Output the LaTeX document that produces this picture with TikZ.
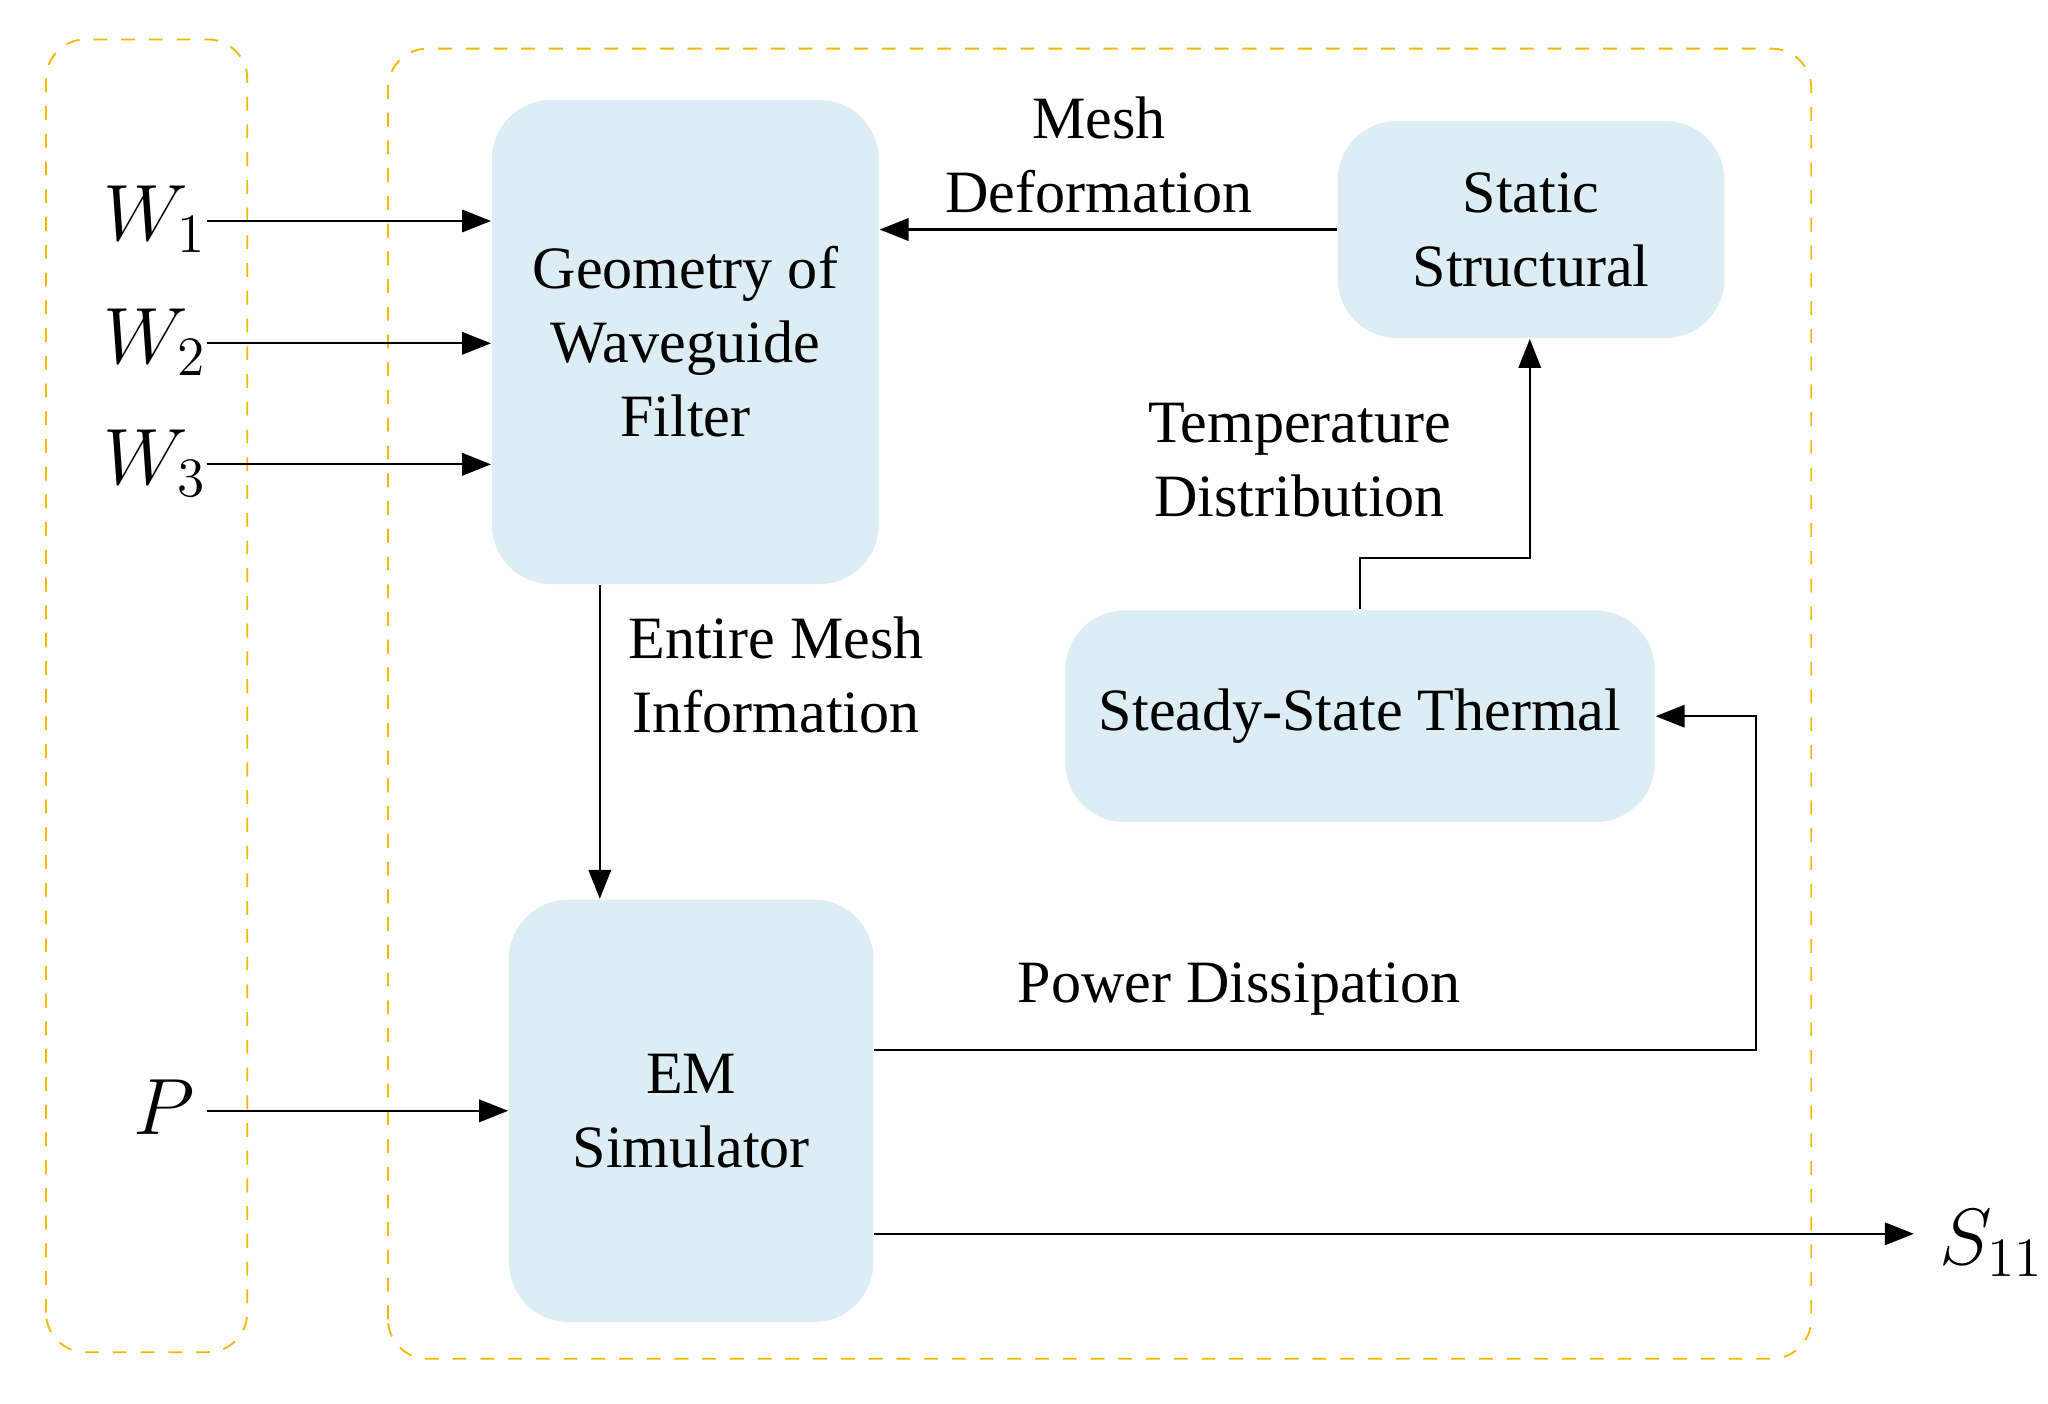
\documentclass[tikz,border=0pt]{standalone}
\usepackage{fontspec}
\setmainfont{Liberation Serif}
\usetikzlibrary{positioning,arrows.meta}
\definecolor{boxblue}{HTML}{DCEEF4}
\definecolor{frameorange}{HTML}{F5B800}
\begin{document}
\begin{tikzpicture}[
      >={Triangle[length=0.22cm,width=0.17cm]},
      block/.style={fill=boxblue,rounded corners=0.45cm,align=center,
                    font=\fontsize{13}{16}\selectfont},
      frame/.style={draw=frameorange,dashed,rounded corners=0.3cm,thin},
      msg/.style={->, line width=0.5pt},
      label/.style={font=\fontsize{13}{16}\selectfont,align=center},
      var/.style={font=\fontsize{18}{20}\selectfont}
    ]
    \useasboundingbox (0,0) rectangle (15.57,10.67);

    % Dashed frames
    \draw[frame] (0.35,0.39) rectangle (1.88,10.37);
    \draw[frame] (2.95,0.34) rectangle (13.77,10.30);

    % Blocks
    \node[block, minimum width=2.94cm, minimum height=3.68cm] (geo) at (5.21,8.07) {Geometry of\\Waveguide\\Filter};
    \node[block, minimum width=2.94cm, minimum height=1.65cm] (static) at (11.64,8.925) {Static\\Structural};
    \node[block, minimum width=4.48cm, minimum height=1.61cm] (thermal) at (10.34,5.225) {Steady-State Thermal};
    \node[block, minimum width=2.77cm, minimum height=3.21cm] (em) at (5.255,2.225) {EM\\Simulator};

    % Inputs
    \node[var] (w1) at (1.18,9.0) {$W_1$};
    \node[var] (w2) at (1.18,8.07) {$W_2$};
    \node[var] (w3) at (1.18,7.15) {$W_3$};
    \node[var] (p) at (1.25,2.25) {$P$};
    \node[var, anchor=west] (s11) at (14.62,1.22) {$S_{11}$};
    \coordinate (w1s) at (1.57,8.99);
    \coordinate (w2s) at (1.57,8.06);
    \coordinate (w3s) at (1.57,7.14);
    \coordinate (ps) at (1.57,2.225);
    \coordinate (s11e) at (14.55,1.29);

    \draw[msg] (w1s) -- (w1s -| geo.west);
    \draw[msg] (w2s) -- (w2s -| geo.west);
    \draw[msg] (w3s) -- (w3s -| geo.west);
    \draw[msg] (ps) -- (em.west);
    \draw[msg] (s11e -| em.east) -- (s11e);

    % Couplings
    \draw[msg] (static.west) -- node[above,label,pos=0.52]{Mesh\\Deformation} (static.west -| geo.east);
    \draw[msg] (geo.south -| 4.56,0) -- (em.north -| 4.56,0);
    \node[label] (meshinfo) at (5.9,5.54) {Entire Mesh\\Information};
    \draw[msg] (thermal.north) -- (10.34,6.43) -- (11.63,6.43) -- (static.south -| 11.63,0);
    \node[label] (tempdist) at (9.88,7.17) {Temperature\\Distribution};
    \draw[msg] (em.east |- 0,2.69) -- (13.35,2.69) -- (13.35,5.225) -- (thermal.east);
    \node[label] (powdis) at (9.42,3.15) {Power Dissipation};
  \end{tikzpicture}
\end{document}
